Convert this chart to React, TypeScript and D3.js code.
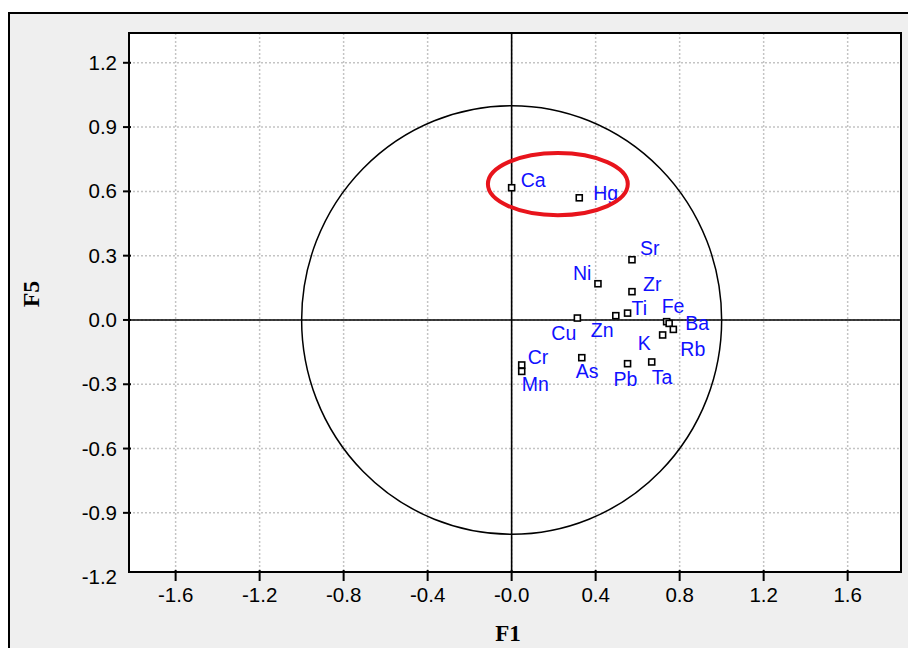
import React, { useRef, useEffect } from 'react';
import * as d3 from 'd3';

// variables (elements) on the F1 / F5 plane
const elements = ['Ca', 'Hg', 'Sr', 'Ni', 'Zr', 'Ti', 'Zn', 'Cu', 'Fe', 'Ba', 'Rb', 'K', 'Ta', 'Pb', 'As', 'Cr', 'Mn'];
const f1 = [0.0, 0.322, 0.573, 0.411, 0.573, 0.552, 0.496, 0.313, 0.738, 0.75, 0.77, 0.719, 0.667, 0.552, 0.334, 0.048, 0.048];
const f5 = [0.617, 0.57, 0.281, 0.169, 0.132, 0.032, 0.02, 0.009, -0.008, -0.016, -0.044, -0.07, -0.196, -0.204, -0.176, -0.21, -0.24];
// label placement in px relative to the marker
const labelDx = [9, 14, 8, -25, 11, 4, -25, -26, -5, 16, 7, -25, 0, -14, -6, 6, 0];
const labelDy = [-1, 2, -5, -4, -1, 2, 21, 22, -9, 7, 27, 15, 22, 22, 20, -1, 20];

const xTicks = [-1.6, -1.2, -0.8, -0.4, 0, 0.4, 0.8, 1.2, 1.6];
const xTickLabels = ['-1.6', '-1.2', '-0.8', '-0.4', '-0.0', '0.4', '0.8', '1.2', '1.6'];
const yTicks = [1.2, 0.9, 0.6, 0.3, 0, -0.3, -0.6, -0.9, -1.2];
const yTickLabels = ['1.2', '0.9', '0.6', '0.3', '0.0', '-0.3', '-0.6', '-0.9', '-1.2'];

// highlighted group (Ca, Hg): centre and radii in data units
const highlight = { cx: 0.22, cy: 0.634, rx: 0.333, ry: 0.145 };

const App = () => {
  const ref = useRef<SVGSVGElement>(null);

  useEffect(() => {
    const width = 908;
    const height = 648;
    const left = 129, right = 901, top = 33, bottom = 572;

    const svg = d3.select(ref.current);
    svg.selectAll('*').remove();

    svg.append('rect')
      .attr('x', 9).attr('y', 13)
      .attr('width', width).attr('height', height)
      .attr('fill', '#efefef').attr('stroke', '#000').attr('stroke-width', 2);

    const x = d3.scaleLinear().domain([-1.822, 1.854]).range([left, right]);
    const y = d3.scaleLinear().domain([-1.176, 1.339]).range([bottom, top]);

    svg.append('rect')
      .attr('x', left).attr('y', top)
      .attr('width', right - left).attr('height', bottom - top)
      .attr('fill', '#fff');

    // grid
    const grid = svg.append('g').attr('stroke', '#c4c4c4').attr('stroke-width', 1.5).attr('stroke-dasharray', '2,2');
    xTicks.forEach(t => {
      grid.append('line').attr('x1', x(t)).attr('x2', x(t)).attr('y1', top).attr('y2', bottom);
    });
    yTicks.filter(t => y(t) > top && y(t) < bottom).forEach(t => {
      grid.append('line').attr('x1', left).attr('x2', right).attr('y1', y(t)).attr('y2', y(t));
    });

    // zero axes
    svg.append('line').attr('x1', x(0)).attr('x2', x(0)).attr('y1', top).attr('y2', bottom)
      .attr('stroke', '#000').attr('stroke-width', 1.6);
    svg.append('line').attr('x1', left).attr('x2', right).attr('y1', y(0)).attr('y2', y(0))
      .attr('stroke', '#000').attr('stroke-width', 1.6);

    // correlation circle
    svg.append('ellipse')
      .attr('cx', x(0)).attr('cy', y(0))
      .attr('rx', x(1) - x(0)).attr('ry', y(0) - y(1))
      .attr('fill', 'none').attr('stroke', '#000').attr('stroke-width', 1.5);

    // plot frame
    svg.append('rect')
      .attr('x', left).attr('y', top)
      .attr('width', right - left).attr('height', bottom - top)
      .attr('fill', 'none').attr('stroke', '#000').attr('stroke-width', 2);

    // ticks + labels
    const font = 'Liberation Sans, Arial, sans-serif';
    xTicks.forEach((t, i) => {
      svg.append('line').attr('x1', x(t)).attr('x2', x(t)).attr('y1', bottom - 2).attr('y2', bottom + 9)
        .attr('stroke', '#000').attr('stroke-width', 2);
      svg.append('text').attr('x', x(t)).attr('y', bottom + 30)
        .attr('text-anchor', 'middle').attr('font-family', font).attr('font-size', 20.5)
        .attr('fill', '#000').text(xTickLabels[i]);
    });
    yTicks.forEach((t, i) => {
      if (y(t) >= top && y(t) <= bottom) {
        svg.append('line').attr('x1', left - 6).attr('x2', left + 2).attr('y1', y(t)).attr('y2', y(t))
          .attr('stroke', '#000').attr('stroke-width', 2);
      }
      svg.append('text').attr('x', left - 12).attr('y', y(t) + 7)
        .attr('text-anchor', 'end').attr('font-family', font).attr('font-size', 20.5)
        .attr('fill', '#000').text(yTickLabels[i]);
    });

    // axis titles
    svg.append('text').attr('x', 508).attr('y', 641)
      .attr('text-anchor', 'middle').attr('font-family', 'Liberation Serif, Times New Roman, serif')
      .attr('font-weight', 'bold').attr('font-size', 23).text('F1');
    svg.append('text')
      .attr('transform', 'translate(39,294) rotate(-90)')
      .attr('text-anchor', 'middle').attr('font-family', 'Liberation Serif, Times New Roman, serif')
      .attr('font-weight', 'bold').attr('font-size', 24).text('F5');

    // points
    const pts = svg.append('g');
    elements.forEach((name, i) => {
      const px = x(f1[i]), py = y(f5[i]);
      pts.append('rect')
        .attr('x', px - 3).attr('y', py - 3).attr('width', 6).attr('height', 6)
        .attr('fill', '#fff').attr('stroke', '#000').attr('stroke-width', 1.6);
      pts.append('text')
        .attr('x', px + labelDx[i]).attr('y', py + labelDy[i])
        .attr('font-family', font).attr('font-size', 19.5).attr('fill', '#1010ff')
        .text(name);
    });

    // highlight ellipse
    svg.append('ellipse')
      .attr('cx', x(highlight.cx)).attr('cy', y(highlight.cy))
      .attr('rx', x(highlight.rx) - x(0)).attr('ry', y(0) - y(highlight.ry))
      .attr('fill', 'none').attr('stroke', '#e8141c').attr('stroke-width', 4);
  }, []);

  return (
    <svg ref={ref} width={908} height={648}
      style={{ position: 'absolute', left: 0, top: 0, display: 'block' }} />
  );
};

export default App;
